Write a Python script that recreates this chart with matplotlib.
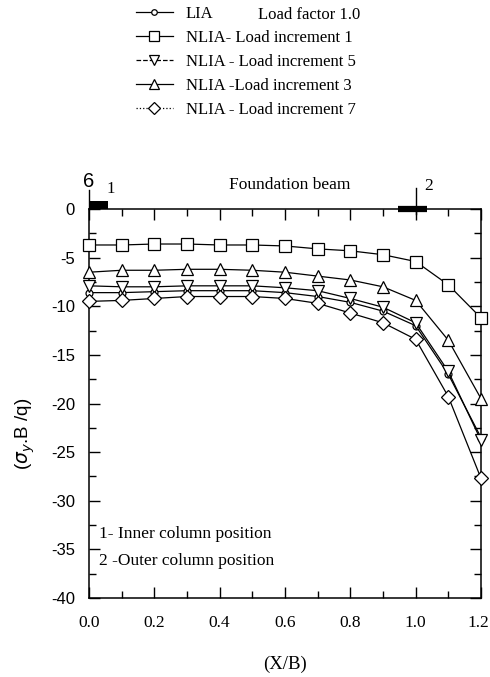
"""Contact stress under foundation beam, LIA vs NLIA."""

import matplotlib

matplotlib.use("Agg")
import matplotlib.pyplot as plt  # noqa: E402
from matplotlib.lines import Line2D  # noqa: E402
from matplotlib.transforms import ScaledTranslation  # noqa: E402

x_over_b = [0.0, 0.1, 0.2, 0.3, 0.4, 0.5, 0.6, 0.7, 0.8, 0.9, 1.0, 1.1, 1.2]

lia = [-8.6, -8.6, -8.5, -8.4, -8.4, -8.4, -8.6, -9.0, -9.6, -10.5, -12.0, -17.0, -23.5]
nlia_inc1 = [-3.7, -3.7, -3.6, -3.6, -3.7, -3.7, -3.8, -4.1, -4.3, -4.7, -5.4, -7.8, -11.2]
nlia_inc5 = [-7.9, -8.0, -8.0, -7.9, -7.9, -7.9, -8.1, -8.4, -9.2, -10.1, -11.7, -16.7, -23.8]
nlia_inc3 = [-6.5, -6.3, -6.3, -6.2, -6.2, -6.3, -6.5, -6.9, -7.3, -8.0, -9.4, -13.5, -19.5]
nlia_inc7 = [-9.5, -9.4, -9.2, -9.0, -9.0, -9.0, -9.2, -9.7, -10.7, -11.7, -13.4, -19.3, -27.7]

x_tick_labels = ["0.0", "0.2", "0.4", "0.6", "0.8", "1.0", "1.2"]

series = [
    ("LIA", lia, "o", "-"),
    ("NLIA- Load increment 1", nlia_inc1, "s", "-"),
    ("NLIA - Load increment 5", nlia_inc5, "v", "--"),
    ("NLIA -Load increment 3", nlia_inc3, "^", "-"),
    ("NLIA - Load increment 7", nlia_inc7, "D", ":"),
]

serif = ["Liberation Serif", "DejaVu Serif"]
sans = ["Liberation Sans", "DejaVu Sans"]

fig = plt.figure(figsize=(4.9, 6.77), dpi=100)
ax = fig.add_axes([89 / 490, 1 - 598 / 677, 392 / 490, 389 / 677])

handles = []
for label, ys, marker, ls in series:
    ms = {"o": 5, "D": 7, "s": 8, "v": 8, "^": 8}[marker]
    style = dict(
        color="black", linewidth=0.9, marker=marker, markersize=ms,
        markerfacecolor="white", markeredgecolor="black", markeredgewidth=0.9,
    )
    ax.plot(x_over_b, ys, linestyle="-", clip_on=False, zorder=3, **style)
    handles.append(Line2D([], [], linestyle=ls, label=label,
                          **{**style, "markersize": ms - 1}))

ax.set_xlim(0, 1.2)
ax.set_ylim(-40, 0)
ax.set_xticks([0.0, 0.2, 0.4, 0.6, 0.8, 1.0, 1.2])
ax.set_xticks([0.1, 0.3, 0.5, 0.7, 0.9, 1.1], minor=True)
ax.set_yticks(range(-40, 1, 5))
ax.set_yticks([v + 2.5 for v in range(-40, 0, 5)], minor=True)
ax.tick_params(which="both", direction="in", top=True, right=True, width=1)
ax.tick_params(which="major", length=8)
ax.tick_params(which="minor", length=5)
ax.tick_params(axis="x", pad=12)
ax.tick_params(axis="y", pad=10)
ax.set_xticklabels(x_tick_labels, fontsize=12.5, family=serif)
ax.set_yticklabels([str(v) for v in range(-40, 1, 5)], fontsize=12, family=sans)
last = ax.get_xticklabels()[-1]
last.set_transform(last.get_transform() + ScaledTranslation(-3 / 100, 0, fig.dpi_scale_trans))
for spine in ax.spines.values():
    spine.set_linewidth(1.1)

ax.set_xlabel("(X/B)", family=serif, fontsize=13.5)
ax.xaxis.set_label_coords(0.5, -(664 - 598) / 389, transform=ax.transAxes)
ax.xaxis.label.set_va("center")
ax.set_ylabel(r"($\sigma_y$.B /q)", family=sans, fontsize=13.5)
ax.yaxis.set_label_coords(-(89 - 25) / 392, (598 - 434) / 389)
ax.yaxis.label.set_va("center")

# column positions on the beam
ax.fill_between([0.0, 0.058], [0, 0], [0.8, 0.8], color="black", linewidth=0,
                clip_on=False, zorder=4)
ax.plot([0.945, 1.035], [0, 0], color="black", linewidth=4.5, solid_capstyle="butt",
        clip_on=False, zorder=4)
ax.plot([1.0, 1.0], [2.2, -0.5], color="black", linewidth=1, clip_on=False, zorder=4)
ax.plot([0.0, 0.0], [0, 2.0], color="black", linewidth=1, clip_on=False, zorder=4)
ax.text(-0.001, 1.85, "6", family=sans, fontsize=14.5, ha="center", va="bottom")
ax.text(0.065, 1.2, "1", family=serif, fontsize=12, ha="center", va="bottom")
ax.text(1.04, 1.5, "2", family=serif, fontsize=12.5, ha="center", va="bottom")
ax.text(0.615, 1.6, "Foundation beam", family=serif, fontsize=12.5, ha="center",
        va="bottom")

ax.text(0.03, -33.4, "1- Inner column position", family=serif, fontsize=12.5,
        va="center")
ax.text(0.03, -36.2, "2 -Outer column position", family=serif, fontsize=12.5,
        va="center")

fig.legend(
    handles=handles, loc="upper left", bbox_to_anchor=(126 / 490, 1 + 4 / 677),
    frameon=False, handlelength=2.2, handletextpad=0.8, labelspacing=0.48,
    borderaxespad=0.2, prop={"family": serif, "size": 12},
)
fig.text(258 / 490, 1 - 15 / 677, "Load factor 1.0", family=serif, fontsize=12,
         va="center")

fig.savefig("out.png", dpi=100)
